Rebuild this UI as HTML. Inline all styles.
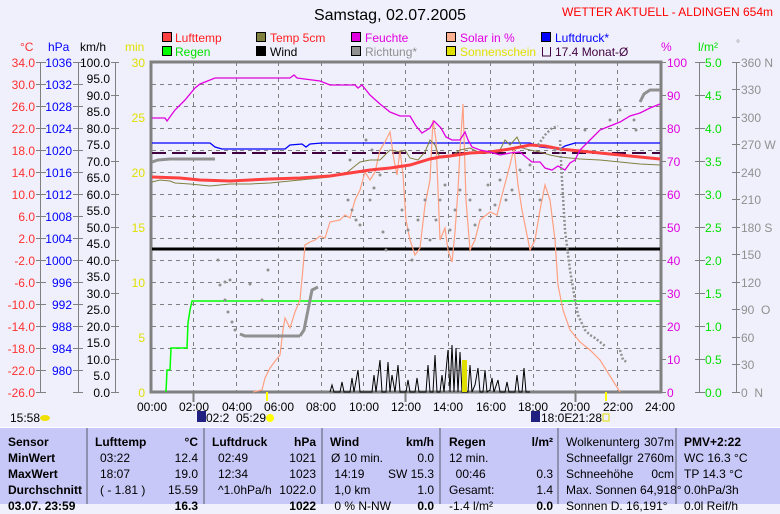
<!DOCTYPE html>
<html><head><meta charset="utf-8"><style>
body{margin:0;width:780px;height:503px;overflow:hidden;background:#f0f0fc;font-family:"Liberation Sans",sans-serif;position:relative}
svg{position:absolute;left:0;top:0}
.tb{position:absolute;left:0;top:427px;width:780px;height:76px;background:#c8c8f8;border-top:1px solid #fff}
.c{position:absolute;top:0;height:76px;border-right:2px solid #9090b0;box-sizing:border-box}
.t{position:absolute;font-size:12px;white-space:nowrap;line-height:16px}
.b{font-weight:bold}
</style></head><body>
<svg width="780" height="427" font-family="Liberation Sans, sans-serif" font-size="12">
<text x="390" y="20" font-size="16" text-anchor="middle">Samstag, 02.07.2005</text>
<text x="773" y="16" fill="#ff0000" text-anchor="end">WETTER AKTUELL - ALDINGEN 654m</text>
<g stroke="#000" stroke-width="1">
<rect x="162.5" y="32.5" width="9" height="9" fill="#ff4040"/><rect x="256.5" y="32.5" width="9" height="9" fill="#808040"/><rect x="351.5" y="32.5" width="9" height="9" fill="#e000e0"/><rect x="446.5" y="32.5" width="9" height="9" fill="#ffb090"/><rect x="541.5" y="32.5" width="9" height="9" fill="#0000ff"/>
<rect x="162.5" y="46.5" width="9" height="9" fill="#00ff00"/><rect x="256.5" y="46.5" width="9" height="9" fill="#000"/><rect x="351.5" y="46.5" width="9" height="9" fill="#909090"/><rect x="446.5" y="46.5" width="9" height="9" fill="#e0e000"/>
</g>
<path d="M550.5 47v9h-8v-9" fill="none" stroke="#400040"/>
<g>
<text x="175" y="42" fill="#ff2020">Lufttemp</text><text x="270" y="42" fill="#ff2020">Temp 5cm</text><text x="365" y="42" fill="#e000e0">Feuchte</text><text x="460" y="42" fill="#e000e0">Solar in %</text><text x="555" y="42" fill="#0000ff">Luftdruck*</text>
<text x="175" y="56" fill="#00e000">Regen</text><text x="270" y="56">Wind</text><text x="365" y="56" fill="#909090">Richtung*</text><text x="460" y="56" fill="#e0e000">Sonnenschein</text><text x="555" y="56" fill="#400040">17.4 Monat-Ø</text>
</g>
<text x="20" y="51" fill="#ff3030">°C</text><text x="48" y="51" fill="#0000ff">hPa</text><text x="80" y="51">km/h</text><text x="125" y="51" fill="#e0e000">min</text>
<text x="661" y="51" fill="#e000e0">%</text><text x="698" y="51" fill="#00e000">l/m²</text><text x="736" y="47" fill="#909090" font-size="10">°</text>
<g stroke="#808080" stroke-dasharray="4,4" stroke-width="1">
<path d="M152 84.5H660M152 106.5H660M152 128.5H660M152 150.5H660M152 172.5H660M152 194.5H660M152 216.5H660M152 238.5H660M152 260.5H660M152 282.5H660M152 304.5H660M152 326.5H660M152 348.5H660M152 370.5H660"/>
<path d="M193.5 62V392M236.5 62V392M278.5 62V392M321.5 62V392M363.5 62V392M405.5 62V392M448.5 62V392M490.5 62V392M533.5 62V392M575.5 62V392M617.5 62V392"/>
</g>
<g stroke="#808080" fill="none">
<path d="M40.5 62V392M78.5 62V392M115.5 62V392M699.5 62V392M736.5 62V392"/>
<rect x="151" y="62" width="510" height="330" stroke-width="3"/>
</g>
<g stroke="#808080">
<path d="M36 62.5h10M36 84.5h10M36 106.5h10M36 128.5h10M36 150.5h10M36 172.5h10M36 194.5h10M36 216.5h10M36 238.5h10M36 260.5h10M36 282.5h10M36 304.5h10M36 326.5h10M36 348.5h10M36 370.5h10M36 392.5h10"/>
<path d="M73 62.5h10M73 84.5h10M73 106.5h10M73 128.5h10M73 150.5h10M73 172.5h10M73 194.5h10M73 216.5h10M73 238.5h10M73 260.5h10M73 282.5h10M73 304.5h10M73 326.5h10M73 348.5h10M73 370.5h10M73 392.5h10"/>
<path d="M111 62.5h8M111 95.5h8M111 128.5h8M111 161.5h8M111 194.5h8M111 227.5h8M111 260.5h8M111 293.5h8M111 326.5h8M111 359.5h8M111 392.5h8"/>
<path d="M660 62.5h6M660 95.5h6M660 128.5h6M660 161.5h6M660 194.5h6M660 227.5h6M660 260.5h6M660 293.5h6M660 326.5h6M660 359.5h6M660 392.5h6"/>
<path d="M695 62.5h10M695 95.5h10M695 128.5h10M695 161.5h10M695 194.5h10M695 227.5h10M695 260.5h10M695 293.5h10M695 326.5h10M695 359.5h10M695 392.5h10"/>
<path d="M732 62.5h8M732 89.5h8M732 117.5h8M732 144.5h8M732 172.5h8M732 199.5h8M732 227.5h8M732 254.5h8M732 282.5h8M732 309.5h8M732 337.5h8M732 364.5h8M732 392.5h8"/>
<path d="M193.5 392v10M405.5 392v10M575.5 392v10" stroke-width="2"/>
</g>
<g text-anchor="end" fill="#ff3030">
<text x="35" y="67">34.0</text><text x="35" y="89">30.0</text><text x="35" y="111">26.0</text><text x="35" y="133">22.0</text><text x="35" y="155">18.0</text><text x="35" y="177">14.0</text><text x="35" y="199">10.0</text><text x="35" y="221">6.0</text><text x="35" y="243">2.0</text><text x="35" y="265">-2.0</text><text x="35" y="287">-6.0</text><text x="35" y="309">-10.0</text><text x="35" y="331">-14.0</text><text x="35" y="353">-18.0</text><text x="35" y="375">-22.0</text><text x="35" y="397">-26.0</text>
</g>
<g text-anchor="end" fill="#0000ff">
<text x="72" y="67">1036</text><text x="72" y="89">1032</text><text x="72" y="111">1028</text><text x="72" y="133">1024</text><text x="72" y="155">1020</text><text x="72" y="177">1016</text><text x="72" y="199">1012</text><text x="72" y="221">1008</text><text x="72" y="243">1004</text><text x="72" y="265">1000</text><text x="72" y="287">996</text><text x="72" y="309">992</text><text x="72" y="331">988</text><text x="72" y="353">984</text><text x="72" y="375">980</text>
</g>
<g text-anchor="end">
<text x="110" y="67">100.0</text><text x="110" y="83">95.0</text><text x="110" y="100">90.0</text><text x="110" y="116">85.0</text><text x="110" y="133">80.0</text><text x="110" y="149">75.0</text><text x="110" y="166">70.0</text><text x="110" y="182">65.0</text><text x="110" y="199">60.0</text><text x="110" y="215">55.0</text><text x="110" y="232">50.0</text><text x="110" y="248">45.0</text><text x="110" y="265">40.0</text><text x="110" y="281">35.0</text><text x="110" y="298">30.0</text><text x="110" y="314">25.0</text><text x="110" y="331">20.0</text><text x="110" y="347">15.0</text><text x="110" y="364">10.0</text><text x="110" y="380">5.0</text><text x="110" y="397">0.0</text>
</g>
<g text-anchor="end" fill="#e0e000">
<text x="145" y="67">30</text><text x="145" y="122">25</text><text x="145" y="177">20</text><text x="145" y="232">15</text><text x="145" y="287">10</text><text x="145" y="342">5</text><text x="145" y="397">0</text>
</g>
<g fill="#e000e0">
<text x="667" y="67">100</text><text x="667" y="100">90</text><text x="667" y="133">80</text><text x="667" y="166">70</text><text x="667" y="199">60</text><text x="667" y="232">50</text><text x="667" y="265">40</text><text x="667" y="298">30</text><text x="667" y="331">20</text><text x="667" y="364">10</text><text x="667" y="397">0</text>
</g>
<g fill="#00e000">
<text x="705" y="67">5.0</text><text x="705" y="100">4.5</text><text x="705" y="133">4.0</text><text x="705" y="166">3.5</text><text x="705" y="199">3.0</text><text x="705" y="232">2.5</text><text x="705" y="265">2.0</text><text x="705" y="298">1.5</text><text x="705" y="331">1.0</text><text x="705" y="364">0.5</text><text x="705" y="397">0.0</text>
</g>
<g fill="#909090">
<text x="741" y="67">360 N</text><text x="741" y="94">330</text><text x="741" y="122">300</text><text x="741" y="149">270 W</text><text x="741" y="177">240</text><text x="741" y="204">210</text><text x="741" y="232">180 S</text><text x="741" y="259">150</text><text x="741" y="287">120</text><text x="741" y="314">90 &#160;O</text><text x="741" y="342">60</text><text x="741" y="369">30</text><text x="741" y="397">0 &#160;N</text>
</g>
<g text-anchor="middle">
<text x="152" y="411">00:00</text><text x="194" y="411">02:00</text><text x="237" y="411">04:00</text><text x="279" y="411">06:00</text><text x="321" y="411">08:00</text><text x="364" y="411">10:00</text><text x="406" y="411">12:00</text><text x="448" y="411">14:00</text><text x="491" y="411">16:00</text><text x="533" y="411">18:00</text><text x="575" y="411">20:00</text><text x="618" y="411">22:00</text><text x="660" y="411">24:00</text>
</g>
<text x="10" y="422">15:58</text><ellipse cx="45" cy="418" rx="5" ry="3" fill="#f0e000"/>
<rect x="197" y="411" width="9" height="11" fill="#202080"/><text x="206" y="422">02:2</text><text x="236" y="422">05:29</text><circle cx="270" cy="418" r="4" fill="#ffff00"/>
<rect x="531" y="411" width="9" height="11" fill="#202080"/><text x="541" y="422">18:0E</text><text x="572" y="422">21:28</text><rect x="603" y="414" width="6" height="7" fill="none" stroke="#e0e000"/>
<path d="M152 153H660" stroke="#400040" stroke-width="2" stroke-dasharray="14,6"/>
<polyline fill="none" stroke="#0000ff" stroke-width="1.3" points="152,143 210,143 215,147 222,149 285,149 290,145 302,144 306,147 310,144 322,143 530,143 540,147 560,149 565,146 575,143 660,143"/>
<polyline fill="none" stroke="#909090" stroke-width="3" points="152,162 158,160 170,159 215,159"/>
<polyline fill="none" stroke="#000" stroke-width="3" points="152,249 660,249"/>
<polyline fill="none" stroke="#00ff00" stroke-width="1.5" points="166,392 167,370 170,370 171,348 187,348 188,323 190,310 192,301 660,301"/>
<polyline fill="none" stroke="#ffa080" stroke-width="1.2" points="253,392 262,390 265,378 270,368 276,360 280,355 283,330 285,318 290,328 295,312 300,300 303,268 305,245 310,242 315,240 320,236 325,238 330,222 340,220 345,215 350,218 355,200 360,190 365,172 370,180 375,172 380,150 385,142 390,132 394,160 397,175 400,150 403,175 406,220 410,240 415,255 420,248 425,205 428,190 430,180 433,120 436,140 440,240 445,228 448,250 452,262 455,232 458,190 460,150 463,104 466,200 470,250 475,240 480,220 490,212 497,215 502,195 506,180 510,165 514,148 518,185 522,210 526,230 530,250 535,240 540,210 545,185 550,200 555,240 558,285 563,310 570,330 580,342 590,350 600,360 610,376 620,392"/>
<polyline fill="none" stroke="#808040" stroke-width="1" points="152,182 160,180 170,181 175,183 190,184 210,186 230,184 250,184 270,183 300,180 330,177 345,174 355,166 360,162 370,160 380,160 390,150 400,152 405,150 410,158 418,160 425,152 430,140 435,145 440,158 450,157 460,150 470,148 480,153 490,152 500,150 505,140 510,145 517,137 522,148 530,150 540,152 550,155 560,157 580,159 600,160 620,162 640,164 660,165"/>
<polyline fill="none" stroke="#ff4040" stroke-width="3" points="152,177 180,178 200,180 230,181 270,179 300,178 330,176 350,173 370,170 390,168 410,165 430,159 440,157 450,156 470,153 490,152 510,149 530,145 545,146 560,149 580,151 600,153 620,155 640,157 660,159"/>
<polyline fill="none" stroke="#e000e0" stroke-width="1.3" points="152,118 165,118 167,121 175,110 185,100 195,88 200,84 215,78 290,78 294,75 297,78 320,81 330,85 355,85 358,88 362,85 370,95 380,104 390,112 400,116 410,116 416,126 422,133 430,128 434,121 437,124 441,128 446,137 452,140 460,140 465,132 468,140 472,147 480,150 490,152 500,155 510,153 520,152 527,158 532,162 540,162 545,168 552,170 558,166 565,170 570,163 575,160 580,150 590,140 600,130 610,126 620,122 630,116 640,113 650,108 660,104"/>
<g fill="#909090">
<circle cx="220" cy="285" r="1.5"/><circle cx="225" cy="300" r="1.5"/><circle cx="228" cy="312" r="1.5"/><circle cx="232" cy="322" r="1.5"/><circle cx="235" cy="330" r="1.5"/><circle cx="218" cy="260" r="1.5"/><circle cx="230" cy="280" r="1.5"/><circle cx="250" cy="284" r="1.5"/><circle cx="262" cy="300" r="1.5"/><circle cx="268" cy="270" r="1.5"/><circle cx="225" cy="282" r="1.5"/>
<polyline fill="none" stroke="#909090" stroke-width="3" points="240,334 245,336 300,336"/>
<polyline fill="none" stroke="#909090" stroke-width="3" points="300,336 304,330 306,320 308,310 310,300 312,290 318,287"/>
<circle cx="348" cy="200" r="1.5"/><circle cx="352" cy="210" r="1.5"/><circle cx="356" cy="220" r="1.5"/><circle cx="360" cy="225" r="1.5"/><circle cx="370" cy="200" r="1.5"/><circle cx="374" cy="188" r="1.5"/><circle cx="380" cy="175" r="1.5"/><circle cx="372" cy="150" r="1.5"/><circle cx="366" cy="140" r="1.5"/><circle cx="350" cy="160" r="1.5"/>
<circle cx="383" cy="232" r="1.5"/><circle cx="386" cy="250" r="1.5"/><circle cx="402" cy="210" r="1.5"/><circle cx="408" cy="230" r="1.5"/><circle cx="412" cy="260" r="1.5"/><circle cx="418" cy="220" r="1.5"/><circle cx="425" cy="200" r="1.5"/><circle cx="430" cy="240" r="1.5"/><circle cx="436" cy="220" r="1.5"/><circle cx="440" cy="200" r="1.5"/><circle cx="445" cy="185" r="1.5"/><circle cx="450" cy="230" r="1.5"/><circle cx="455" cy="210" r="1.5"/><circle cx="460" cy="190" r="1.5"/><circle cx="470" cy="200" r="1.5"/><circle cx="475" cy="225" r="1.5"/><circle cx="480" cy="210" r="1.5"/><circle cx="488" cy="185" r="1.5"/><circle cx="495" cy="205" r="1.5"/><circle cx="500" cy="180" r="1.5"/><circle cx="506" cy="200" r="1.5"/><circle cx="512" cy="190" r="1.5"/><circle cx="520" cy="170" r="1.5"/><circle cx="530" cy="165" r="1.5"/><circle cx="540" cy="200" r="1.5"/><circle cx="555" cy="150" r="1.5"/><circle cx="585" cy="130" r="1.5"/><circle cx="610" cy="120" r="1.5"/><circle cx="620" cy="110" r="1.5"/><circle cx="634" cy="120" r="1.5"/><circle cx="636" cy="130" r="1.5"/>
<polyline fill="none" stroke="#909090" stroke-width="2.5" stroke-dasharray="2,2" points="560,140 562,180 565,230 570,270 575,300 578,315 585,330 590,335 595,338 600,342 605,346"/>
<polyline fill="none" stroke="#909090" stroke-width="2.5" stroke-dasharray="2,2" points="538,145 545,135 552,128 558,126"/>
<polyline fill="none" stroke="#909090" stroke-width="2.5" stroke-dasharray="2,2" points="620,350 623,360 627,362"/>
<polyline fill="none" stroke="#909090" stroke-width="3" points="640,102 644,94 650,90 660,90"/>
</g>
<polyline fill="none" stroke="#000" stroke-width="1" points="330,392 332,385 334,392 340,392 342,382 344,392 350,392 352,378 354,392 358,370 360,392 372,392 374,375 376,392 380,360 382,392 386,392 388,362 390,392 392,375 395,392 398,365 400,392 406,392 408,380 410,392 415,392 417,378 419,392 426,392 428,365 430,392 433,392 435,355 437,392 440,392 442,375 444,392 448,350 450,392 452,345 454,392 456,348 458,392 460,352 462,392 468,392 470,365 472,392 475,385 478,368 480,392 483,392 485,370 487,392 490,390 492,378 494,392 498,380 500,392 505,392 507,382 509,392 515,392 517,375 519,392 522,392 524,368 526,392 530,392"/>
<rect x="462" y="360" width="5" height="32" fill="#e0e000"/>
<rect x="266" y="392" width="2" height="9" fill="#ffff00"/><rect x="605" y="392" width="2" height="9" fill="#ffff00"/>
</svg>
<div class="tb">
<div class="c" style="left:0;width:88px"></div><div class="c" style="left:88px;width:117px"></div><div class="c" style="left:205px;width:118px"></div><div class="c" style="left:323px;width:118px"></div><div class="c" style="left:441px;width:118px"></div><div class="c" style="left:559px;width:118px"></div>
<div class="t b" style="left:8px;top:6px">Sensor<br>MinWert<br>MaxWert<br>Durchschnitt<br>03.07. 23:59</div>
<div class="t b" style="left:95px;top:6px">Lufttemp</div><div class="t b" style="right:582px;top:6px">°C</div>
<div class="t" style="left:100px;top:22px">03:22<br>18:07<br>( - 1.81 )</div><div class="t" style="right:582px;top:22px;text-align:right">12.4<br>19.0<br>15.59<br><b>16.3</b></div>
<div class="t b" style="left:212px;top:6px">Luftdruck</div><div class="t b" style="right:464px;top:6px">hPa</div>
<div class="t" style="left:218px;top:22px">02:49<br>12:34<br>^1.0hPa/h</div><div class="t" style="right:464px;top:22px;text-align:right">1021<br>1023<br>1022.0<br><b>1022</b></div>
<div class="t b" style="left:330px;top:6px">Wind</div><div class="t b" style="right:346px;top:6px">km/h</div>
<div class="t" style="left:331px;top:22px">Ø 10 min.<br>&#160;14:19<br>&#160;1,0 km<br>&#160;0 % N-NW</div><div class="t" style="right:346px;top:22px;text-align:right">0.0<br>SW 15.3<br>1.0<br><b>0.0</b></div>
<div class="t b" style="left:449px;top:6px">Regen</div><div class="t b" style="right:227px;top:6px">l/m²</div>
<div class="t" style="left:449px;top:22px">12 min.<br>&#160;&#160;00:46<br>Gesamt:<br>-1.4 l/m²</div><div class="t" style="right:227px;top:22px;text-align:right">&#160;<br>0.3<br>1.4<br><b>0.0</b></div>
<div class="t" style="left:566px;top:6px">Wolkenunterg<br>Schneefallgr<br>Schneehöhe<br>Max. Sonnen 64,918°<br>Sonnen D. 16,191°</div><div class="t" style="right:106px;top:6px;text-align:right">307m<br>2760m<br>0cm</div>
<div class="t" style="left:684px;top:6px"><b>PMV+2:22</b><br>WC 16.3 °C<br>TP 14.3 °C<br>0.0hPa/3h<br>0.0l Reif/h</div>
</div>
</body></html>
